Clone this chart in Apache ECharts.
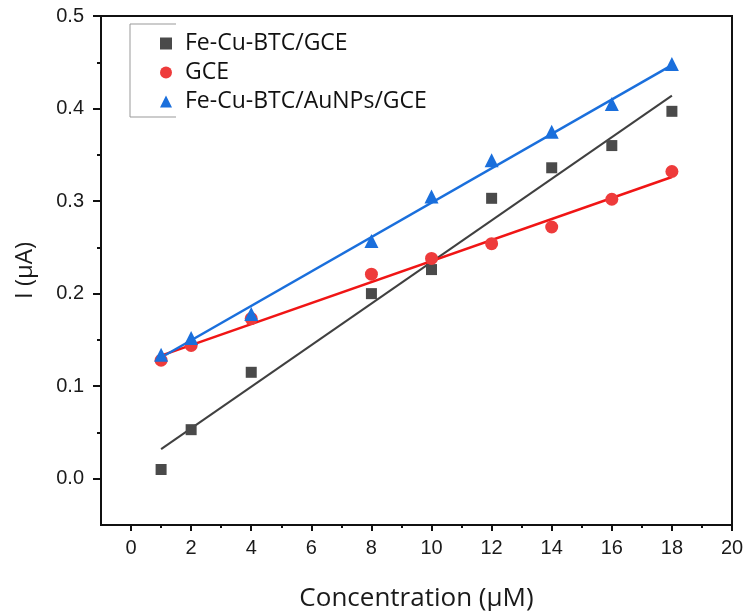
<!DOCTYPE html>
<html>
<head>
<meta charset="utf-8">
<script src="https://cdn.jsdelivr.net/npm/echarts@6/dist/echarts.min.js"></script>
<style>
  html, body { margin: 0; padding: 0; background: #fff; }
  #main { width: 746px; height: 611px; }
</style>
</head>
<body>
<div id="main"></div>
<script>
// concentration (uM)
const conc = [1, 2, 4, 8, 10, 12, 14, 16, 18];
// current (uA)
const feCuBtc = [0.010, 0.053, 0.115, 0.200, 0.226, 0.303, 0.336, 0.360, 0.397];
const gce = [0.128, 0.144, 0.173, 0.221, 0.238, 0.254, 0.272, 0.302, 0.332];
const feCuBtcAu = [0.134, 0.152, 0.178, 0.257, 0.305, 0.344, 0.375, 0.405, 0.448];
// fitted lines, end points
const fitX = [1, 18];
const feCuBtcFit = [0.032, 0.414];
const gceFit = [0.133, 0.326];
const feCuBtcAuFit = [0.131, 0.447];

const xMajor = [0, 2, 4, 6, 8, 10, 12, 14, 16, 18, 20];
const xMinor = [1, 3, 5, 7, 9, 11, 13, 15, 17, 19];
const yMajor = [0, 0.1, 0.2, 0.3, 0.4, 0.5];
const yMinor = [0.05, 0.15, 0.25, 0.35, 0.45];

const pairs = (xs, ys) => xs.map((x, i) => [x, ys[i]]);

const names = ['Fe-Cu-BTC/GCE', 'GCE', 'Fe-Cu-BTC/AuNPs/GCE'];
const colors = ['#4a4a4a', '#ee3b3b', '#1a6fdc'];
const lineColors = ['#404040', '#f01515', '#1a6fdc'];

let myChart = echarts.init(document.getElementById('main'));

const tickFont = { fontFamily: 'Liberation Sans', fontSize: 20, color: '#1a1a1a' };

myChart.setOption({
  animation: false,
  grid: {
    left: 101, right: 14, top: 16, bottom: 86,
    outerBoundsMode: 'none',
    show: true, borderColor: '#111', borderWidth: 2
  },
  legend: {
    orient: 'vertical',
    left: 155,
    top: 27,
    itemWidth: 12,
    itemHeight: 12,
    itemGap: 6,
    data: [
      { name: names[0], icon: 'rect' },
      { name: names[1], icon: 'circle' },
      { name: names[2], icon: 'triangle' }
    ],
    textStyle: { fontFamily: 'Open Sans', fontSize: 23, color: '#111', padding: [0, 0, 0, 8] }
  },
  graphic: [
    {
      type: 'polyline',
      shape: { points: [[176, 24], [130, 24], [130, 117], [176, 117]] },
      style: { stroke: '#999', lineWidth: 1, fill: null }
    }
  ],
  xAxis: [
    {
      type: 'value', min: -1, max: 20,
      name: 'Concentration (μM)', nameLocation: 'middle', nameGap: 61,
      nameTextStyle: { fontFamily: 'Open Sans', fontSize: 26, color: '#1a1a1a' },
      axisLine: { onZero: false, lineStyle: { color: '#111', width: 2 } },
      axisTick: { customValues: xMajor, length: 6, lineStyle: { color: '#111', width: 2 } },
      axisLabel: Object.assign({ customValues: xMajor, margin: 13 }, tickFont),
      splitLine: { show: false }
    },
    {
      type: 'value', min: -1, max: 20, position: 'bottom',
      axisLine: { show: false, onZero: false },
      axisTick: { customValues: xMinor, length: 3, lineStyle: { color: '#111', width: 2 } },
      axisLabel: { show: false },
      splitLine: { show: false }
    }
  ],
  yAxis: [
    {
      type: 'value', min: -0.05, max: 0.5,
      name: 'I (μA)', nameLocation: 'middle', nameGap: 64,
      nameTextStyle: { fontFamily: 'Open Sans', fontSize: 24, color: '#1a1a1a' },
      axisLine: { onZero: false, lineStyle: { color: '#111', width: 2 } },
      axisTick: { customValues: yMajor, length: 8, lineStyle: { color: '#111', width: 2 } },
      axisLabel: Object.assign({ customValues: yMajor, margin: 17, formatter: v => v.toFixed(1) }, tickFont),
      splitLine: { show: false }
    },
    {
      type: 'value', min: -0.05, max: 0.5, position: 'left',
      axisLine: { show: false, onZero: false },
      axisTick: { customValues: yMinor, length: 4, lineStyle: { color: '#111', width: 2 } },
      axisLabel: { show: false },
      splitLine: { show: false }
    }
  ],
  series: [
    {
      name: names[0] + ' fit', type: 'line', data: pairs(fitX, feCuBtcFit),
      showSymbol: false, lineStyle: { color: lineColors[0], width: 2 }, z: 2
    },
    {
      name: names[1] + ' fit', type: 'line', data: pairs(fitX, gceFit),
      showSymbol: false, lineStyle: { color: lineColors[1], width: 2.5 }, z: 2
    },
    {
      name: names[2] + ' fit', type: 'line', data: pairs(fitX, feCuBtcAuFit),
      showSymbol: false, lineStyle: { color: lineColors[2], width: 2.5 }, z: 2
    },
    {
      name: names[0], type: 'scatter', data: pairs(conc, feCuBtc),
      symbol: 'rect', symbolSize: 11, itemStyle: { color: colors[0], opacity: 1 }, z: 3
    },
    {
      name: names[1], type: 'scatter', data: pairs(conc, gce),
      symbol: 'circle', symbolSize: 13, itemStyle: { color: colors[1], opacity: 1 }, z: 3
    },
    {
      name: names[2], type: 'scatter', data: pairs(conc, feCuBtcAu),
      symbol: 'triangle', symbolSize: 14, itemStyle: { color: colors[2], opacity: 1 }, z: 4
    }
  ]
});
</script>
</body>
</html>
